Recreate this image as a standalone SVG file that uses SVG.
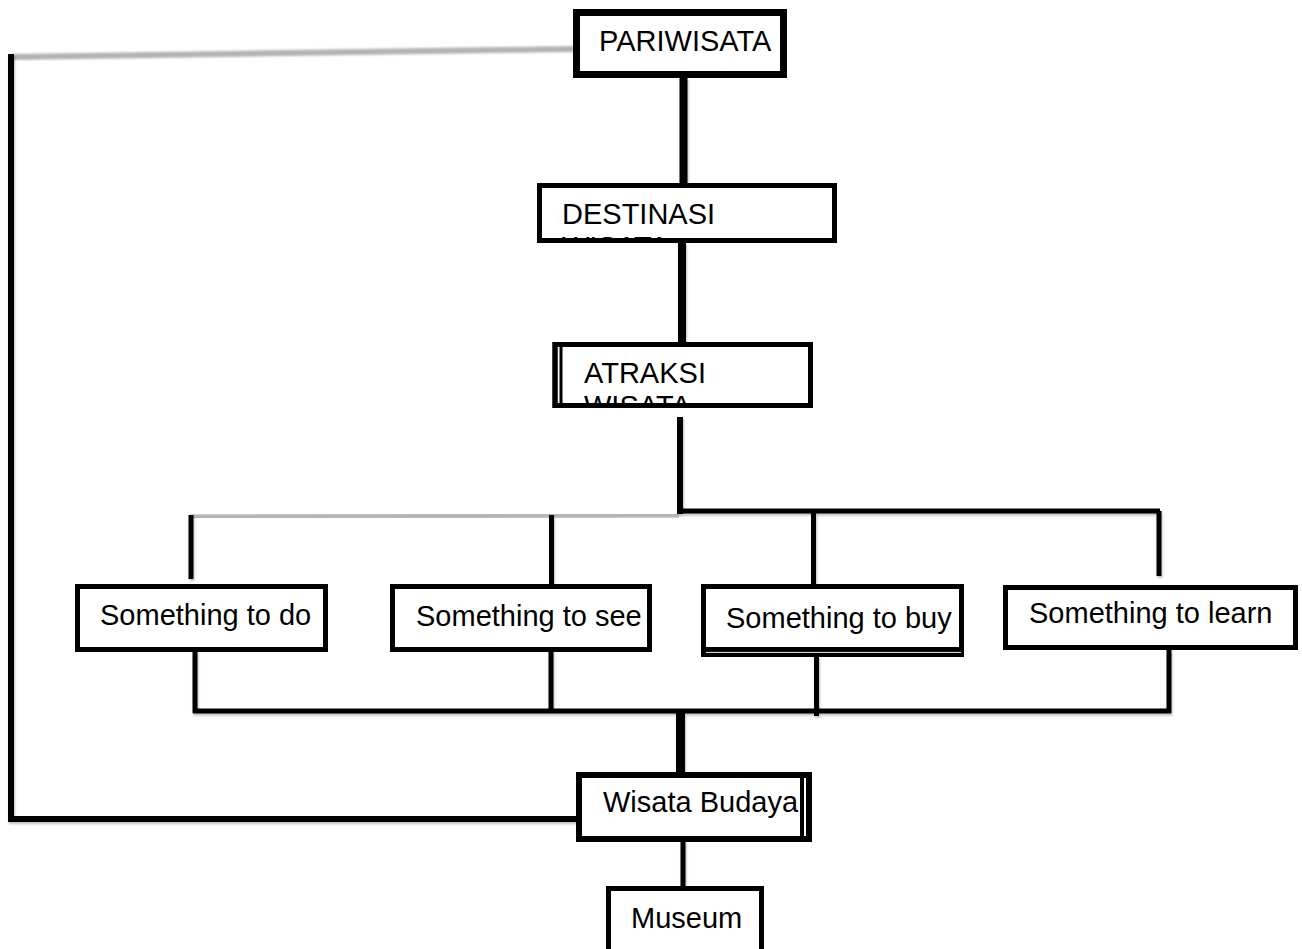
<svg xmlns="http://www.w3.org/2000/svg" width="1302" height="949" viewBox="0 0 1302 949">
<style>
.box{fill:#fff;stroke:#000}
.t{font-family:"Liberation Sans",Arial,sans-serif;font-size:29px;fill:#000}
.ln{stroke:#000;stroke-width:5;fill:none;stroke-linecap:butt}
.gray{stroke:#b3b3b3;stroke-width:6;fill:none}
</style>
<defs>
<filter id="sh" x="-5%" y="-5%" width="110%" height="110%">
<feDropShadow dx="1" dy="2" stdDeviation="1" flood-color="#000" flood-opacity="0.25"/>
</filter>
<filter id="blur" x="-5%" y="-50%" width="110%" height="200%">
<feGaussianBlur stdDeviation="1.3"/>
</filter>
<clipPath id="cDest"><rect x="540" y="186" width="294" height="54"/></clipPath>
<clipPath id="cAtr"><rect x="563" y="345" width="247" height="60"/></clipPath>
</defs>
<rect width="1302" height="949" fill="#fff"/>

<g id="connectors">
<line class="gray" x1="12" y1="57" x2="574" y2="49" filter="url(#blur)"/>
<line class="gray" x1="191" y1="517" x2="679" y2="515" filter="url(#blur)"/>
<g filter="url(#sh)">
<line class="ln" x1="11" y1="54" x2="11" y2="822" style="stroke-width:6"/>
<line class="ln" x1="8" y1="819" x2="577" y2="819" style="stroke-width:6"/>
<line class="ln" x1="683.5" y1="78" x2="683.5" y2="184" style="stroke-width:8"/>
<line class="ln" x1="682" y1="242" x2="682" y2="343" style="stroke-width:8"/>
<line class="ln" x1="680" y1="417" x2="680" y2="514" style="stroke-width:6"/>
<line class="ln" x1="680" y1="511" x2="1160" y2="511"/>
<line class="ln" x1="191" y1="515" x2="191" y2="579"/>
<line class="ln" x1="551.5" y1="515" x2="551.5" y2="584"/>
<line class="ln" x1="813.5" y1="512" x2="813.5" y2="584"/>
<line class="ln" x1="1159" y1="511" x2="1159" y2="576"/>
<line class="ln" x1="195" y1="651" x2="195" y2="713"/>
<line class="ln" x1="551" y1="651" x2="551" y2="713"/>
<line class="ln" x1="816.5" y1="656" x2="816.5" y2="716"/>
<line class="ln" x1="1169" y1="650" x2="1169" y2="713"/>
<line class="ln" x1="193" y1="711" x2="1171" y2="711"/>
<line class="ln" x1="680.5" y1="711" x2="680.5" y2="773" style="stroke-width:9"/>
<line class="ln" x1="683" y1="841" x2="683" y2="887"/>
</g>
</g>

<g id="pariwisata">
<rect class="box" x="576.5" y="12.5" width="207" height="62" style="stroke-width:7"/>
<text class="t" x="599" y="51">PARIWISATA</text>
</g>

<g id="destinasi">
<rect class="box" x="539.5" y="185.5" width="295" height="55" style="stroke-width:5"/>
<g clip-path="url(#cDest)">
<text class="t" x="562" y="224">DESTINASI</text>
<text class="t" x="562" y="257">WISATA</text>
</g>
<rect x="539.5" y="185.5" width="295" height="55" fill="none" stroke="#000" stroke-width="5"/>
</g>

<g id="atraksi">
<rect class="box" x="555" y="344.5" width="255.5" height="61" style="stroke-width:5"/>
<line x1="561" y1="345" x2="561" y2="405" stroke="#000" stroke-width="3"/>
<g clip-path="url(#cAtr)">
<text class="t" x="584" y="383">ATRAKSI</text>
<text class="t" x="584" y="416">WISATA</text>
</g>
<rect x="555" y="344.5" width="255.5" height="61" fill="none" stroke="#000" stroke-width="5"/>
</g>

<g id="to-do">
<rect class="box" x="77.5" y="586.5" width="248" height="63" style="stroke-width:5"/>
<text class="t" x="100" y="625">Something to do</text>
</g>

<g id="to-see">
<rect class="box" x="392.5" y="586.5" width="257" height="63" style="stroke-width:5"/>
<text class="t" x="416" y="626">Something to see</text>
</g>

<g id="to-buy">
<rect class="box" x="703.5" y="586.5" width="258" height="68" style="stroke-width:5"/>
<line x1="706" y1="649.5" x2="961" y2="649.5" stroke="#000" stroke-width="5"/>
<line x1="706" y1="652.4" x2="961" y2="652.4" stroke="#eee" stroke-width="1"/>
<text class="t" x="726" y="628">Something to buy</text>
</g>

<g id="to-learn">
<rect class="box" x="1005.5" y="587.5" width="290" height="60" style="stroke-width:5"/>
<text class="t" x="1029" y="623">Something to learn</text>
</g>

<g id="wisata-budaya">
<rect class="box" x="579" y="775" width="230" height="64" style="stroke-width:6"/>
<line x1="802" y1="778" x2="802" y2="836" stroke="#000" stroke-width="4"/>
<text class="t" x="603" y="812">Wisata Budaya</text>
</g>

<g id="museum">
<rect class="box" x="608.5" y="888.5" width="153" height="70" style="stroke-width:5"/>
<text class="t" x="631" y="928">Museum</text>
</g>
</svg>
